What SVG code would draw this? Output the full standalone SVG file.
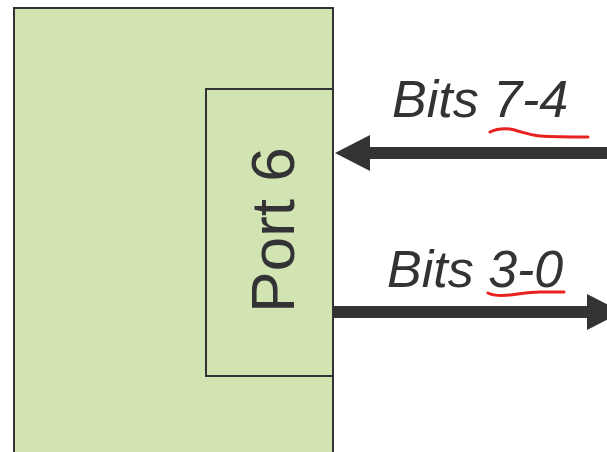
<svg xmlns="http://www.w3.org/2000/svg" width="607" height="452" viewBox="0 0 607 452">
<style>
.box{fill:#d1e4b1;stroke:#333336;stroke-width:2}
.lbl{font-family:"Liberation Sans",Arial,sans-serif;fill:#333336}
.it{font-style:italic;font-size:52px}
.wire{stroke:#333336;stroke-width:12;fill:none}
.head{fill:#333336}
.red{fill:none;stroke:#e8201e;stroke-width:3;stroke-linecap:round}
</style>
<rect width="607" height="452" fill="#ffffff"/>
<g id="chip">
<rect class="box" x="14" y="8" width="319" height="460"/>
</g>
<g id="port6">
<rect class="box" x="206" y="89" width="127" height="287"/>
<text class="lbl" font-size="62" text-anchor="middle" transform="translate(294,230) rotate(-90)">Port 6</text>
</g>
<g id="connectors">
<line class="wire" x1="607" y1="153" x2="365" y2="153"/>
<polygon class="head" points="335,153 370,135 370,171"/>
<line class="wire" x1="333" y1="312" x2="592" y2="312"/>
<polygon class="head" points="587,294 622,312 587,330"/>
</g>
<g id="labels">
<text class="lbl it" x="392" y="117">Bits 7-4</text>
<path class="red" d="M490,132 C496,129 502,128 510,129 C520,131 528,135 540,136 C555,137 570,137 588,137"/>
<text class="lbl it" x="387" y="287">Bits 3-0</text>
<path class="red" d="M488,293 C494,296 500,296 510,295 C520,294 528,292 540,292 C550,292 558,292 564,292"/>
</g>
</svg>
